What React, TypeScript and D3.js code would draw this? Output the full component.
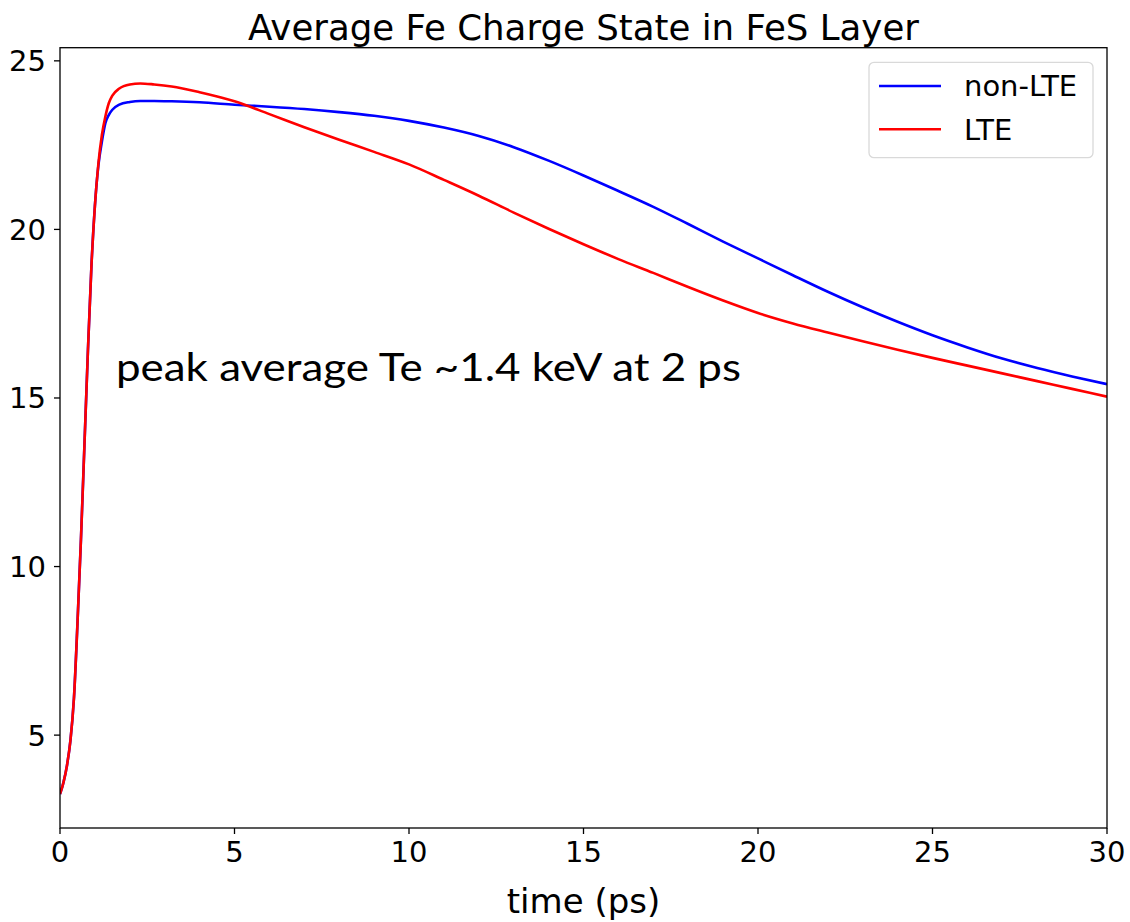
import React from "react";
import * as d3 from "d3";

const times = [0, 0.1, 0.2, 0.3, 0.4, 0.5, 0.6, 0.7, 0.8, 0.9, 1.0, 1.1, 1.2, 1.3, 1.4, 1.5, 1.7, 2.0, 2.3, 2.7, 3.2, 4, 5, 6, 7, 8, 9, 10, 11, 12, 13, 14, 15, 16, 17, 18, 19, 20, 21, 22, 23, 24, 25, 26, 27, 28, 29, 30];

const nonLTE = [3.25, 3.6, 4.1, 4.85, 6.1, 8.3, 10.8, 13.6, 16.4, 18.9, 20.7, 21.9, 22.6, 23.15, 23.4, 23.55, 23.7, 23.78, 23.81, 23.81, 23.8, 23.77, 23.7, 23.64, 23.57, 23.48, 23.37, 23.22, 23.02, 22.77, 22.44, 22.04, 21.6, 21.14, 20.67, 20.16, 19.64, 19.14, 18.64, 18.15, 17.69, 17.26, 16.86, 16.5, 16.17, 15.89, 15.64, 15.41];

const lte = [3.25, 3.6, 4.1, 4.85, 6.1, 8.3, 10.8, 13.6, 16.4, 18.9, 20.7, 21.95, 22.8, 23.35, 23.75, 23.97, 24.18, 24.3, 24.33, 24.3, 24.24, 24.07, 23.8, 23.42, 23.03, 22.66, 22.3, 21.93, 21.47, 21.0, 20.5, 20.02, 19.56, 19.12, 18.71, 18.29, 17.89, 17.52, 17.21, 16.94, 16.68, 16.43, 16.19, 15.96, 15.73, 15.5, 15.27, 15.04];

const xTicks = [0, 5, 10, 15, 20, 25, 30];
const yTicks = [5, 10, 15, 20, 25];
const seriesNames = ["non-LTE", "LTE"];
const seriesColors = ["#0000ff", "#ff0000"];

const W = 1130;
const H = 922;
const left = 60;
const right = 1107;
const top = 47.7;
const bottom = 828;

export default function App() {
  const x = d3.scaleLinear().domain([0, 30]).range([left, right]);
  const y = d3.scaleLinear().domain([2.245, 25.39]).range([bottom, top]);
  const line = d3
    .line<number>()
    .x((_, i) => x(times[i]))
    .y((d) => y(d))
    .curve(d3.curveMonotoneX);
  const series = [nonLTE, lte];
  const tickFont = "DejaVu Sans, sans-serif";

  return (
    <svg
      width={W}
      height={H}
      style={{ position: "absolute", left: 0, top: 0, background: "#fff" }}
      fontFamily={tickFont}
    >
      <rect x={0} y={0} width={W} height={H} fill="#fff" />
      <text x={583.5} y={40} textAnchor="middle" fontSize={35.6} fill="#000">
        Average Fe Charge State in FeS Layer
      </text>

      <defs>
        <clipPath id="plotclip">
          <rect x={left} y={top} width={right - left} height={bottom - top} />
        </clipPath>
      </defs>

      <g clipPath="url(#plotclip)">
        {series.map((s, i) => (
          <path
            key={seriesNames[i]}
            d={line(s) || ""}
            fill="none"
            stroke={seriesColors[i]}
            strokeWidth={2.6}
            strokeLinejoin="round"
          />
        ))}
      </g>

      <rect
        x={left}
        y={top}
        width={right - left}
        height={bottom - top}
        fill="none"
        stroke="#000"
        strokeWidth={1.3}
      />

      {xTicks.map((t) => (
        <g key={"x" + t}>
          <line x1={x(t)} x2={x(t)} y1={bottom} y2={bottom + 6} stroke="#000" strokeWidth={1.3} />
          <text x={x(t)} y={862} textAnchor="middle" fontSize={29} fill="#000">
            {t}
          </text>
        </g>
      ))}
      {yTicks.map((t) => (
        <g key={"y" + t}>
          <line x1={left - 6} x2={left} y1={y(t)} y2={y(t)} stroke="#000" strokeWidth={1.3} />
          <text x={46} y={y(t)} dy="0.36em" textAnchor="end" fontSize={29} fill="#000">
            {t}
          </text>
        </g>
      ))}

      <text x={583.5} y={913} textAnchor="middle" fontSize={34} fill="#000">
        time (ps)
      </text>

      <text
        x={116}
        y={381}
        fontFamily="Lato, sans-serif"
        fontSize={39}
        fill="#000"
        textLength={625}
        lengthAdjust="spacingAndGlyphs"
      >
        peak average Te ~1.4 keV at 2 ps
      </text>

      <g>
        <rect
          x={869}
          y={62.3}
          width={224}
          height={95.4}
          rx={5}
          ry={5}
          fill="#fff"
          fillOpacity={0.8}
          stroke="#d9d9d9"
          strokeWidth={1.3}
        />
        {seriesNames.map((n, i) => (
          <g key={n}>
            <line
              x1={879}
              x2={941}
              y1={86 + i * 43.3}
              y2={86 + i * 43.3}
              stroke={seriesColors[i]}
              strokeWidth={2.6}
            />
            <text x={964} y={86 + i * 43.3} dy="0.36em" fontSize={29} fill="#000">
              {n}
            </text>
          </g>
        ))}
      </g>
    </svg>
  );
}
